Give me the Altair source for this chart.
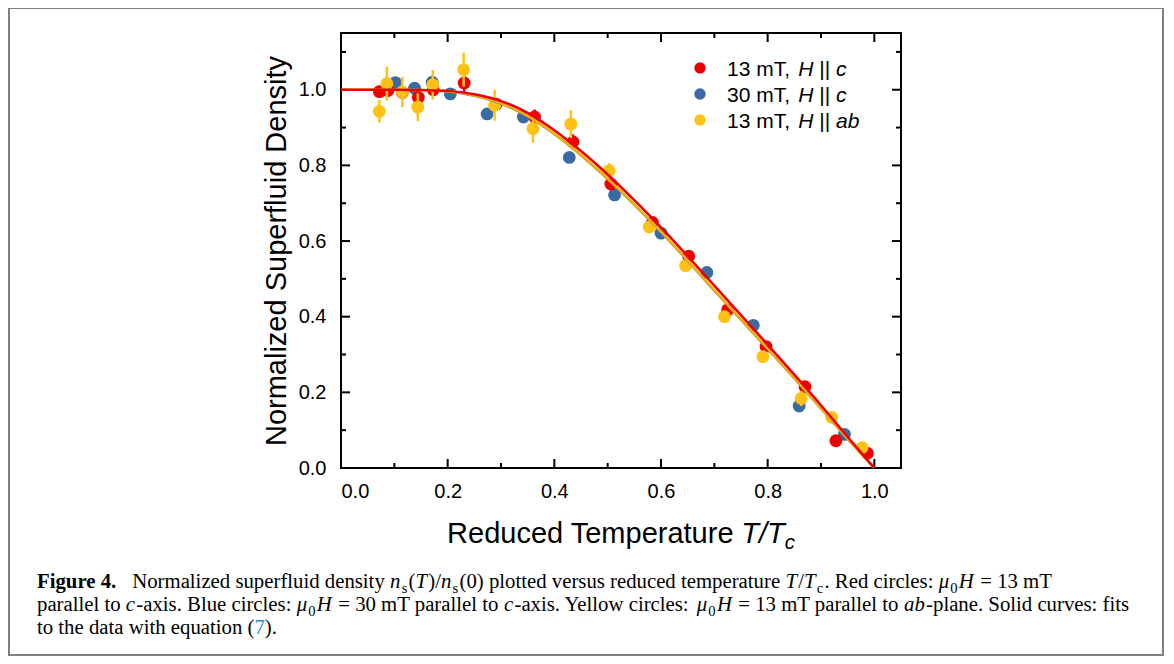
import altair as alt
import pandas as pd

# ---------------- data ----------------
series_names = ["13 mT, H || c", "30 mT, H || c", "13 mT, H || ab"]

red_t = [0.072, 0.088, 0.115, 0.145, 0.173, 0.231, 0.291, 0.363, 0.435, 0.506,
         0.584, 0.652, 0.725, 0.797, 0.870, 0.928, 0.987]
red_ns = [0.995, 0.998, 0.993, 0.980, 1.000, 1.018, 0.962, 0.928, 0.862, 0.751,
          0.649, 0.560, 0.418, 0.321, 0.215, 0.072, 0.039]
red_err = [0.015, 0.010, 0.012, 0.020, 0.012, 0.028, 0.015, 0.020, 0.020, 0.010,
           0.010, 0.010, 0.015, 0.010, 0.010, 0.010, 0.010]

blue_t = [0.102, 0.138, 0.171, 0.205, 0.274, 0.342, 0.428, 0.513, 0.600, 0.686,
          0.773, 0.859, 0.944]
blue_ns = [1.019, 1.004, 1.020, 0.989, 0.936, 0.928, 0.821, 0.722, 0.621, 0.517,
           0.377, 0.164, 0.089]
blue_err = [0.006, 0.006, 0.006, 0.006, 0.006, 0.006, 0.006, 0.006, 0.006, 0.006,
            0.006, 0.006, 0.006]

yellow_t = [0.072, 0.086, 0.115, 0.144, 0.172, 0.230, 0.288, 0.360, 0.431, 0.503,
            0.578, 0.646, 0.719, 0.791, 0.863, 0.920, 0.977]
yellow_ns = [0.943, 1.016, 0.994, 0.954, 1.013, 1.053, 0.959, 0.897, 0.909, 0.786,
             0.637, 0.535, 0.400, 0.294, 0.184, 0.134, 0.054]
yellow_err = [0.030, 0.045, 0.040, 0.037, 0.039, 0.045, 0.041, 0.037, 0.037, 0.020,
              0.012, 0.012, 0.012, 0.012, 0.020, 0.012, 0.012]

# fit curves
fit_t = [0.00, 0.05, 0.10, 0.15, 0.20, 0.25, 0.30, 0.35, 0.40, 0.45, 0.50,
         0.55, 0.60, 0.65, 0.70, 0.75, 0.80, 0.85, 0.90, 0.95, 1.00]
fit_red = [1.000, 1.000, 1.000, 0.999, 0.997, 0.988, 0.970, 0.939, 0.893, 0.838, 0.776,
           0.708, 0.636, 0.560, 0.482, 0.404, 0.326, 0.247, 0.166, 0.082, 0.000]
fit_blue = [1.000, 1.000, 1.000, 0.999, 0.995, 0.983, 0.962, 0.928, 0.881, 0.825, 0.762,
            0.694, 0.622, 0.546, 0.467, 0.390, 0.313, 0.235, 0.155, 0.075, 0.000]
fit_yellow = [1.000, 1.000, 1.000, 0.999, 0.996, 0.985, 0.965, 0.931, 0.884, 0.828, 0.765,
              0.697, 0.625, 0.549, 0.470, 0.393, 0.316, 0.238, 0.158, 0.077, 0.000]

x_major = [0.0, 0.2, 0.4, 0.6, 0.8, 1.0]
x_minor = [0.1, 0.3, 0.5, 0.7, 0.9]
y_major = [0.0, 0.2, 0.4, 0.6, 0.8, 1.0]
y_minor = [0.1, 0.3, 0.5, 0.7, 0.9, 1.1]

y_title = "Normalized Superfluid Density"
x_title_parts = [("Reduced Temperature ", "r"), ("T/T", "i", -0.14), ("c", "isub")]
legend_parts = [
    [("13 mT, ", "r"), ("H", "i"), (" || ", "r"), ("c", "i")],
    [("30 mT, ", "r"), ("H", "i"), (" || ", "r"), ("c", "i")],
    [("13 mT, ", "r"), ("H", "i"), (" || ", "r"), ("ab", "i")],
]
caption_lines = [
    [("Figure 4.", "b"), ("   Normalized superfluid density ", "r"), ("n", "i"), ("s", "sub"),
     ("(", "r"), ("T", "i"), (")/", "r"), ("n", "i"), ("s", "sub"),
     ("(0) plotted versus reduced temperature ", "r"), ("T", "i"), ("/", "r"), ("T", "i"),
     ("c", "sub"), (". Red circles: ", "r"), ("\u03bc", "i"), ("0", "sub"), ("H", "i"),
     (" = 13 mT", "r")],
    [("parallel to ", "r"), ("c", "i"), ("-axis. Blue circles: ", "r"), ("\u03bc", "i"),
     ("0", "sub"), ("H", "i"), (" = 30 mT parallel to ", "r"), ("c", "i"),
     ("-axis. Yellow circles: ", "r"), ("\u03bc", "i"), ("0", "sub"), ("H", "i"),
     (" = 13 mT parallel to ", "r"), ("ab", "i"), ("-plane. Solid curves: fits", "r")],
    [("to the data with equation (", "r"), ("7", "link"), (").", "r")],
]

# ---------------- styles ----------------
point_colors = ["#EE0000", "#3A6BA3", "#FFC214"]
curve_colors = ["#EE0000", "#6282A6", "#F6B000"]
W, H = 560, 435

# font metrics (per 1000 em) used to place mixed-style text runs
def _tab(chars, widths):
    return dict(zip(chars, widths))

UP = "ABCDEFGHIJKLMNOPQRSTUVWXYZ"
LO = "abcdefghijklmnopqrstuvwxyz"
PUNCT = " !()+,-./:=|"
TIMES_R = _tab(PUNCT, [250, 333, 333, 333, 564, 250, 333, 250, 278, 278, 564, 200])
TIMES_R.update(_tab("0123456789", [500] * 10))
TIMES_R.update(_tab(UP, [722, 667, 667, 722, 611, 556, 722, 722, 333, 389, 722, 611, 889,
                         722, 722, 556, 722, 667, 556, 611, 722, 722, 944, 722, 722, 611]))
TIMES_R.update(_tab(LO, [444, 500, 444, 500, 444, 333, 500, 500, 278, 278, 500, 278, 778,
                         500, 500, 500, 500, 333, 389, 278, 500, 500, 722, 500, 500, 444]))
TIMES_I = dict(TIMES_R)
TIMES_I.update(_tab(UP, [611, 611, 667, 722, 611, 611, 722, 722, 333, 444, 667, 556, 833,
                         667, 722, 611, 722, 611, 500, 556, 722, 611, 833, 611, 556, 556]))
TIMES_I.update(_tab(LO, [500, 500, 444, 500, 444, 278, 500, 500, 278, 278, 444, 278, 722,
                         500, 500, 500, 500, 389, 389, 278, 500, 444, 667, 444, 444, 389]))
TIMES_I["\u03bc"] = 500
TIMES_B = dict(TIMES_R)
TIMES_B.update({"F": 611, "i": 278, "g": 500, "u": 556, "r": 444, "e": 444, "4": 500, ".": 250})

ARIAL = _tab(PUNCT, [278, 278, 333, 333, 584, 278, 333, 278, 278, 278, 584, 260])
ARIAL.update(_tab("0123456789", [556] * 10))
ARIAL.update(_tab(LO, [556, 556, 500, 556, 556, 278, 556, 556, 222, 222, 500, 222, 833,
                       556, 556, 556, 556, 333, 500, 278, 556, 500, 722, 500, 500, 500]))
ARIAL.update({"R": 722, "T": 611, "H": 722})

SERIF = "Liberation Serif"
SANS = "Liberation Sans"
# font, style, weight, size factor, baseline shift (em), colour, metrics, extra gap after (em)
CAP_STYLES = {
    "r": (SERIF, "normal", "normal", 1.0, 0.0, "black", TIMES_R, 0.0),
    "i": (SERIF, "italic", "normal", 1.0, 0.0, "black", TIMES_I, 0.06),
    "b": (SERIF, "normal", "bold", 1.0, 0.0, "black", TIMES_B, 0.0),
    "sub": (SERIF, "normal", "normal", 0.7, 0.22, "black", TIMES_R, 0.06),
    "link": (SERIF, "normal", "normal", 1.0, 0.0, "#2B8AD1", TIMES_R, 0.0),
}
SANS_STYLES = {
    "r": (SANS, "normal", "normal", 1.0, 0.0, "black", ARIAL, 0.0),
    "i": (SANS, "italic", "normal", 1.0, 0.0, "black", ARIAL, 0.0),
    "isub": (SANS, "italic", "normal", 0.7, 0.22, "black", ARIAL, 0.0),
}


def em(text, table):
    return sum(table.get(c, 500) for c in text) / 1000.0


def _parts(parts):
    for p in parts:
        yield p[0], p[1], (p[2] if len(p) > 2 else 0.0)


def line_width(parts, styles, fs):
    tot = 0.0
    for t, s, pre in _parts(parts):
        st = styles[s]
        tot += (em(t, st[6]) * st[3] + st[7]) * fs + pre * fs
    return tot


def layout(lines, styles, fs, x0s, y0s):
    rows = []
    for parts, x0, y0 in zip(lines, x0s, y0s):
        x = x0
        for text, st, pre in _parts(parts):
            font, fstyle, fweight, scale, shift, color, table, gap = styles[st]
            size = fs * scale
            x += pre * fs
            stripped = text.lstrip(" ")
            lead = len(text) - len(stripped)
            if stripped.strip():
                rows.append(dict(px=x + em(" " * lead, table) * size,
                                 py=y0 + shift * fs, txt=stripped.rstrip(" "), key=st))
            x += em(text, table) * size + gap * fs
    return rows


def text_layers(rows, styles, fs):
    df = pd.DataFrame(rows)
    out = []
    for st, g in df.groupby("key"):
        font, fstyle, fweight, scale, shift, color, table, gap = styles[st]
        out.append(
            alt.Chart(g[["px", "py", "txt"]]).mark_text(
                align="left", baseline="alphabetic", font=font, fontSize=round(fs * scale, 2),
                fontStyle=fstyle, fontWeight=fweight, color=color
            ).encode(
                x=alt.X("px:Q", scale=None, axis=None),
                y=alt.Y("py:Q", scale=None, axis=None),
                text="txt:N",
            )
        )
    return out


# ---------------- tables ----------------
rows = []
for name, ts, ns, es in zip(series_names, [red_t, blue_t, yellow_t],
                            [red_ns, blue_ns, yellow_ns], [red_err, blue_err, yellow_err]):
    for t, n, e in zip(ts, ns, es):
        rows.append(dict(series=name, t=t, ns=n, lo=n - e, hi=n + e))
pts = pd.DataFrame(rows)

fit_rows = []
for name, ys_ in zip(series_names, [fit_red, fit_blue, fit_yellow]):
    for t, v in zip(fit_t, ys_):
        fit_rows.append(dict(series=name, t=t, ns=v))
fit = pd.DataFrame(fit_rows)

# ---------------- scales / axes ----------------
xs = alt.Scale(domain=[0, 1.05], nice=False, zero=False)
ys = alt.Scale(domain=[0, 1.15], nice=False, zero=False)
cs = alt.Scale(domain=series_names, range=point_colors)

xaxis = alt.Axis(values=x_major, format=".1f", labelFont=SANS, labelFontSize=20,
                 labelColor="black", ticks=False, tickSize=0, domain=False, grid=False,
                 labelPadding=13)
yaxis = alt.Axis(values=y_major, format=".1f", labelFont=SANS, labelFontSize=20,
                 labelColor="black", ticks=False, tickSize=0, domain=False, grid=False,
                 labelPadding=15, titleFont=SANS, titleFontSize=29, titleFontWeight="normal",
                 titleColor="black", titlePadding=7)


def X(f):
    return alt.X(f, type="quantitative", scale=xs, axis=xaxis, title=None)


def Y(f):
    return alt.Y(f, type="quantitative", scale=ys, axis=yaxis, title=y_title)


layers = []

# outer figure border
layers.append(alt.Chart(pd.DataFrame({"a": [0]})).mark_rect(
    fillOpacity=0, stroke="#808080", strokeWidth=2
).encode(x=alt.value(-332), x2=alt.value(822), y=alt.value(-25), y2=alt.value(622)))

# inward ticks on all four sides
for vals, ln in [(x_major, 9), (x_minor, 5)]:
    d = pd.DataFrame({"v": vals})
    layers.append(alt.Chart(d).mark_rule(color="black", strokeWidth=2).encode(
        x=X("v"), y=alt.value(H), y2=alt.value(H - ln)))
    layers.append(alt.Chart(d).mark_rule(color="black", strokeWidth=2).encode(
        x=X("v"), y=alt.value(0), y2=alt.value(ln)))
for vals, ln in [(y_major, 9), (y_minor, 5)]:
    d = pd.DataFrame({"v": vals})
    layers.append(alt.Chart(d).mark_rule(color="black", strokeWidth=2).encode(
        y=Y("v"), x=alt.value(0), x2=alt.value(ln)))
    layers.append(alt.Chart(d).mark_rule(color="black", strokeWidth=2).encode(
        y=Y("v"), x=alt.value(W), x2=alt.value(W - ln)))

# points with error bars (blue under, then red, then yellow)
for idx in [1, 0, 2]:
    name = series_names[idx]
    base = alt.Chart(pts).transform_filter(alt.datum.series == name)
    layers.append(base.mark_circle(size=165, opacity=1).encode(
        x=X("t"), y=Y("ns"), color=alt.Color("series:N", scale=cs, legend=None)))
    layers.append(base.mark_rule(strokeWidth=2.5, color=point_colors[idx]).encode(
        x=X("t"), y=Y("lo"), y2=alt.Y2("hi")))

# fit curves
for idx, sw in [(1, 1.5), (2, 2.5), (0, 2.5)]:
    name = series_names[idx]
    layers.append(alt.Chart(fit).transform_filter(alt.datum.series == name).mark_line(
        color=curve_colors[idx], strokeWidth=sw, interpolate="monotone"
    ).encode(x=X("t"), y=Y("ns")))

# legend (built from the series list)
leg_dot_y = [35, 61, 87]
leg_df = pd.DataFrame({"series": series_names, "px": [359] * 3, "py": leg_dot_y})
layers.append(alt.Chart(leg_df).mark_circle(size=130, opacity=1).encode(
    x=alt.X("px:Q", scale=None, axis=None), y=alt.Y("py:Q", scale=None, axis=None),
    color=alt.Color("series:N", scale=cs, legend=None)))
LEG_FS = 21
leg_rows = layout(legend_parts, SANS_STYLES, LEG_FS, [386] * 3, [v + 7.5 for v in leg_dot_y])
layers += text_layers(leg_rows, SANS_STYLES, LEG_FS)

# x-axis title with italic T/T_c
XT_FS = 29
xt_w = line_width(x_title_parts, SANS_STYLES, XT_FS)
xt_rows = layout([x_title_parts], SANS_STYLES, XT_FS, [W / 2 - xt_w / 2], [510])
layers += text_layers(xt_rows, SANS_STYLES, XT_FS)

# caption
CAP_FS = round(1092 / line_width(caption_lines[1], CAP_STYLES, 1.0), 2)
cap_rows = layout(caption_lines, CAP_STYLES, CAP_FS, [-304] * 3, [555, 578, 601])
layers += text_layers(cap_rows, CAP_STYLES, CAP_FS)

chart = alt.layer(*layers).properties(
    width=W, height=H,
    padding={"left": 333, "top": 25, "right": 265, "bottom": 188},
    autosize=alt.AutoSizeParams(type="none"),
).configure_view(stroke="black", strokeWidth=2)

chart.save("out.html", embed_options={"renderer": "svg", "actions": False})
